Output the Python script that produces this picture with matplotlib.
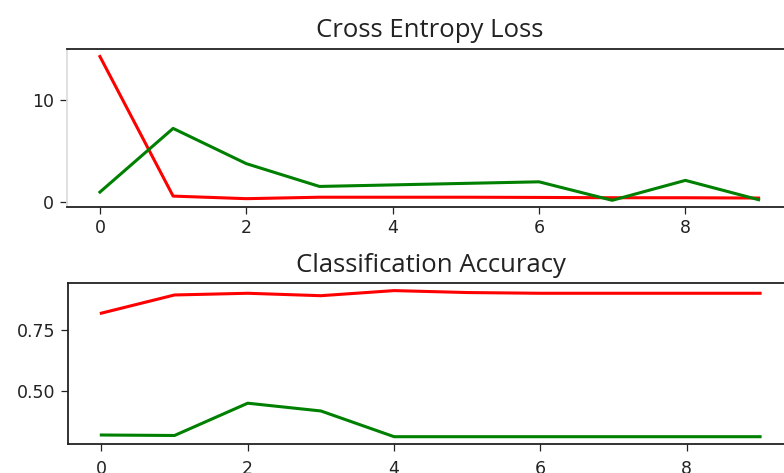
import numpy as np
import matplotlib
matplotlib.use("Agg")
import matplotlib.pyplot as plt

# Epochs
epochs = list(range(10))

# Cross entropy loss (train = red, test = green)
loss_train = [14.2, 0.61, 0.36, 0.5, 0.5, 0.5, 0.48, 0.45, 0.45, 0.42]
loss_test = [1.0, 7.2, 3.77, 1.55, 1.7, 1.85, 2.0, 0.2, 2.14, 0.26]

# Classification accuracy
acc_train = [0.819, 0.894, 0.901, 0.891, 0.912, 0.904, 0.901, 0.901, 0.901, 0.901]
acc_test = [0.317, 0.315, 0.448, 0.416, 0.31, 0.31, 0.31, 0.31, 0.31, 0.31]

W, H = 784, 473
fig = plt.figure(figsize=(W / 100, H / 100), dpi=100)

def px_axes(left, top, right, bottom):
    # axes box from pixel edges
    return fig.add_axes([left / W, 1 - bottom / H, (right - left) / W, (bottom - top) / H])

ax1 = px_axes(67, 49.3, 791.5, 207.5)
ax2 = px_axes(68.4, 283.3, 793, 444)

for ax in (ax1, ax2):
    ax.tick_params(labelsize=12.5, length=5, width=0.9, colors="#222222")
    ax.tick_params(axis="y", pad=4.5)
    for s in ax.spines.values():
        s.set_linewidth(1.3)
        s.set_color("#222222")

ax1.tick_params(axis="x", pad=3.5)
ax2.tick_params(axis="x", pad=6.5)

title_font = dict(family="Open Sans", fontsize=18.5, color="#222222")

ax1.set_title("Cross Entropy Loss", pad=9, **title_font)
ax1.plot(epochs, loss_train, color="red", lw=2.2)
ax1.plot(epochs, loss_test, color="green", lw=2.2)
ax1.set_yticks([0, 10])
ax1.spines["left"].set_color("#dddddd")

ax2.set_title("Classification Accuracy", pad=8, **title_font)
ax2.plot(epochs, acc_train, color="red", lw=2.2)
ax2.plot(epochs, acc_test, color="green", lw=2.2)
ax2.set_yticks([0.5, 0.75])

fig.savefig("out.png", dpi=100)
